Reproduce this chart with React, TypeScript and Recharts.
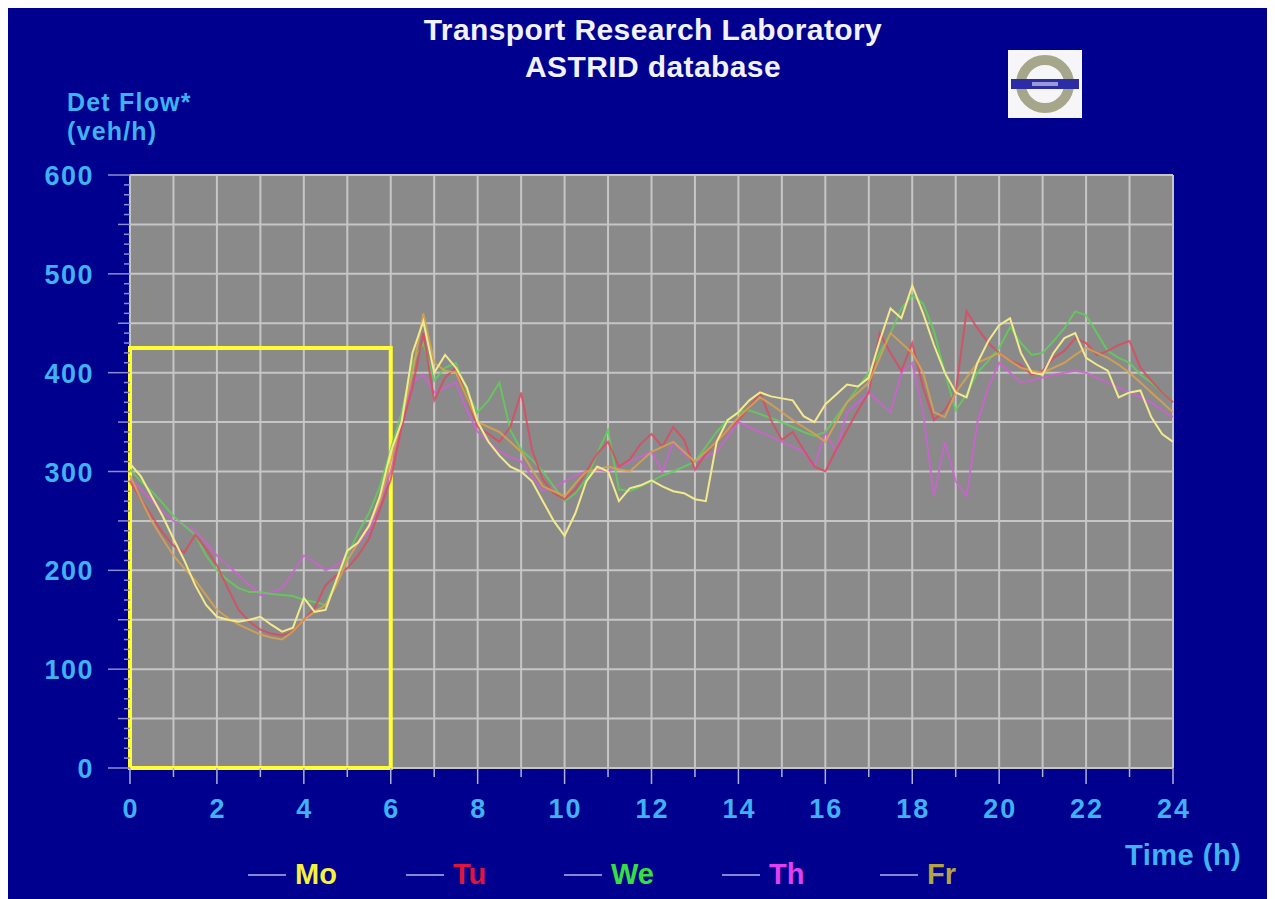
import React from "react";
import { CartesianGrid, Line, LineChart, ReferenceArea, XAxis, YAxis } from "recharts";

// quarter-hour samples, 0h .. 24h
const HOURS = Array.from({ length: 97 }, (_, i) => i / 4);

const MO = [
  308, 295, 275, 255, 232, 210, 185, 165, 153, 150, 148, 150, 153, 145, 138, 142,
  172, 158, 160, 190, 220, 228, 245, 275, 320, 350, 420, 452, 400, 418, 405, 385,
  350, 330, 316, 305, 300, 290, 270, 250, 235, 258, 290, 305, 300, 270, 283, 286,
  291, 285, 280, 278, 272, 270, 330, 352, 360, 372, 380, 376, 374, 372, 356, 350,
  368, 378, 388, 386, 395, 432, 465, 455, 488, 460, 428, 400, 380, 375, 410, 432,
  448, 455, 420, 400, 398, 420, 435, 440, 415, 408, 402, 375, 380, 382, 355, 338,
  330,
];
const TU = [
  290, 272, 255, 238, 225, 218, 236, 222, 205, 182, 160, 148, 140, 136, 134, 138,
  150, 162, 185, 195, 202, 215, 232, 262, 292, 345, 385, 440, 372, 395, 405, 375,
  345, 338, 330, 345, 380, 322, 292, 278, 272, 282, 300, 318, 330, 305, 312, 328,
  338, 325, 345, 332, 302, 318, 330, 342, 352, 365, 380, 352, 332, 340, 322, 305,
  300, 322, 342, 362, 380, 440, 420, 402, 430, 385, 352, 362, 380, 462, 445, 430,
  420, 412, 408, 398, 402, 415, 422, 435, 430, 418, 422, 428, 432, 405, 392, 380,
  370,
];
const WE = [
  302, 290, 280, 268, 255, 245, 236, 215, 200, 190, 182, 178, 178, 176, 175, 174,
  170, 168, 165, 190, 215, 238, 258, 285, 322, 360, 410, 430, 392, 405, 410, 380,
  360, 372, 390, 342, 322, 312, 300, 285, 270, 278, 292, 318, 342, 282, 280, 285,
  290, 296, 300, 305, 310, 325, 340, 352, 360, 362, 358, 354, 350, 345, 340, 336,
  340, 355, 370, 385, 400, 420, 440, 465, 478, 470, 442, 400, 362, 378, 400, 412,
  425, 446, 430, 418, 420, 432, 445, 462, 458, 440, 422, 415, 410, 398, 390, 380,
  370,
];
const TH = [
  292, 282, 270, 260, 250, 246, 240, 228, 215, 205, 195, 185, 175, 178, 182, 198,
  215, 208, 200, 205, 215, 226, 240, 268, 300, 345, 390, 398, 380, 385, 390, 362,
  340, 330, 320, 315, 310, 295, 280, 284, 290, 296, 300, 302, 300, 305, 310, 315,
  320, 300, 330, 318, 310, 315, 320, 335, 350, 345, 340, 335, 330, 325, 320, 305,
  340, 320, 360, 370, 380, 370, 360, 400, 410, 360, 275, 330, 290, 275, 350, 385,
  410, 400, 390, 392, 395, 398, 400, 402, 400, 395, 390, 385, 380, 375, 370, 362,
  355,
];
const FR = [
  296, 272, 250, 232, 215, 202, 190, 175, 160, 152, 145, 140, 135, 132, 130, 138,
  150, 158, 165, 185, 210, 228, 245, 270, 310, 352, 400, 460, 410, 402, 400, 375,
  350, 345, 340, 330, 320, 302, 285, 280, 275, 288, 300, 302, 305, 302, 300, 310,
  320, 325, 330, 320, 310, 320, 330, 342, 355, 365, 375, 368, 360, 352, 345, 338,
  330, 350, 370, 380, 390, 415, 440, 430, 420, 400, 360, 355, 380, 395, 410, 415,
  420, 412, 405, 402, 400, 405, 410, 418, 425, 420, 415, 408, 400, 390, 380, 370,
  360,
];

const X_LABELS = [0, 2, 4, 6, 8, 10, 12, 14, 16, 18, 20, 22, 24];
const Y_LABELS = [0, 100, 200, 300, 400, 500, 600];
const X_GRID = Array.from({ length: 25 }, (_, i) => i);
const Y_GRID = Array.from({ length: 13 }, (_, i) => i * 50);
const Y_MINOR = Array.from({ length: 61 }, (_, i) => i * 10);

// highlighted night period
const BOX_FROM = 0;
const BOX_TO = 6;
const BOX_TOP = 425;

const SERIES = [
  { key: "mo", name: "Mo", values: MO, line: "#f2ea8c", text: "#f4f23a" },
  { key: "tu", name: "Tu", values: TU, line: "#dc4a62", text: "#e0153c" },
  { key: "we", name: "We", values: WE, line: "#62cc5c", text: "#36e040" },
  { key: "th", name: "Th", values: TH, line: "#cc62d0", text: "#e040f0" },
  { key: "fr", name: "Fr", values: FR, line: "#d8a24e", text: "#b4a444" },
];
const DRAW_ORDER = ["th", "we", "tu", "fr", "mo"];

const data = HOURS.map((h, i) => {
  const row: Record<string, number> = { h };
  SERIES.forEach((s) => (row[s.key] = s.values[i]));
  return row;
});

const FONT = "'Liberation Sans', Arial, sans-serif";
const LABEL = "#3fb2f4";
const BG = "#00008e";

function YTick({ x, y, payload }: any) {
  const v = payload.value;
  const major = Y_LABELS.includes(v);
  const len = major ? 22 : v % 50 === 0 ? 12 : 6;
  return (
    <g>
      <line x1={x - len} x2={x} y1={y} y2={y} stroke="#8c8cd0" strokeWidth={1.5} />
      {major && (
        <text x={x - 36} y={y + 10} textAnchor="end" fill={LABEL} fontSize={27} fontWeight="bold" fontFamily={FONT} letterSpacing={1.5}>
          {v}
        </text>
      )}
    </g>
  );
}

function XTick({ x, y, payload }: any) {
  const v = payload.value;
  const major = X_LABELS.includes(v);
  return (
    <g>
      <line x1={x} x2={x} y1={y} y2={y + (major ? 16 : 9)} stroke="#b0b0d8" strokeWidth={1.5} />
      {major && (
        <text x={x + 1} y={y + 50} textAnchor="middle" fill={LABEL} fontSize={27} fontWeight="bold" fontFamily={FONT} letterSpacing={2}>
          {v}
        </text>
      )}
    </g>
  );
}

function LegendRow() {
  return (
    <div style={{ position: "absolute", left: 0, top: 850, display: "flex", paddingLeft: 240, fontFamily: FONT }}>
      {SERIES.map((s) => (
        <div key={s.key} style={{ width: 158, display: "flex", alignItems: "center" }}>
          <span style={{ width: 38, height: 2, background: "#a8a8e6", opacity: 0.8, marginRight: 9 }} />
          <span style={{ color: s.text, fontSize: 29, fontWeight: "bold" }}>{s.name}</span>
        </div>
      ))}
    </div>
  );
}

function Logo() {
  return (
    <svg width={74} height={68} style={{ position: "absolute", left: 1000, top: 42 }}>
      <rect x={0} y={0} width={74} height={68} fill="#f6f6f8" />
      <circle cx={37} cy={34} r={24} fill="none" stroke="#a6a68a" strokeWidth={10} />
      <rect x={3} y={29} width={68} height={10} fill="#2c2ca4" />
      <rect x={24} y={32} width={26} height={4} fill="#9a9ad8" />
    </svg>
  );
}

export default function App() {
  return (
    <div style={{ position: "relative", width: 1259, height: 891, background: BG, fontFamily: FONT }}>
      <div
        style={{
          position: "absolute",
          left: 0,
          width: 1290,
          top: 3,
          textAlign: "center",
          color: "#f2f2ff",
          fontSize: 30,
          fontWeight: "bold",
          letterSpacing: 0.4,
          lineHeight: "37px",
        }}
      >
        <div>Transport Research Laboratory</div>
        <div>ASTRID database</div>
      </div>
      <Logo />
      <div
        style={{
          position: "absolute",
          left: 59,
          top: 80,
          color: LABEL,
          fontSize: 25,
          fontWeight: "bold",
          letterSpacing: 1.2,
          lineHeight: "29px",
        }}
      >
        <div>Det Flow*</div>
        <div>(veh/h)</div>
      </div>
      <div
        style={{
          position: "absolute",
          left: 1117,
          top: 831,
          color: LABEL,
          fontSize: 29,
          fontWeight: "bold",
          letterSpacing: 0.5,
        }}
      >
        Time (h)
      </div>
      <LineChart width={1259} height={891} data={data} margin={{ top: 167, right: 94, bottom: 101, left: 62 }}>
        <CartesianGrid
          fill="#8a8a8a"
          fillOpacity={1}
          stroke="#c6c6c6"
          strokeWidth={2}
          horizontalValues={Y_GRID}
          verticalValues={X_GRID}
        />
        <XAxis
          dataKey="h"
          type="number"
          domain={[0, 24]}
          ticks={X_GRID}
          interval={0}
          tick={<XTick />}
          tickSize={0}
          tickMargin={0}
          tickLine={false}
          axisLine={false}
          height={30}
        />
        <YAxis
          type="number"
          domain={[0, 600]}
          ticks={Y_MINOR}
          interval={0}
          tick={<YTick />}
          tickSize={0}
          tickMargin={0}
          tickLine={false}
          axisLine={false}
          width={60}
        />
        {DRAW_ORDER.map((k) => {
          const s = SERIES.find((x) => x.key === k)!;
          return (
            <Line
              key={s.key}
              dataKey={s.key}
              name={s.name}
              type="linear"
              stroke={s.line}
              strokeWidth={2}
              strokeOpacity={s.key === "mo" ? 1 : 0.85}
              dot={false}
              activeDot={false}
              isAnimationActive={false}
            />
          );
        })}
        <ReferenceArea
          x1={BOX_FROM}
          x2={BOX_TO}
          y1={0}
          y2={BOX_TOP}
          fill="none"
          fillOpacity={0}
          stroke="#ffff34"
          strokeWidth={4}
          ifOverflow="visible"
        />
      </LineChart>
      <LegendRow />
    </div>
  );
}
